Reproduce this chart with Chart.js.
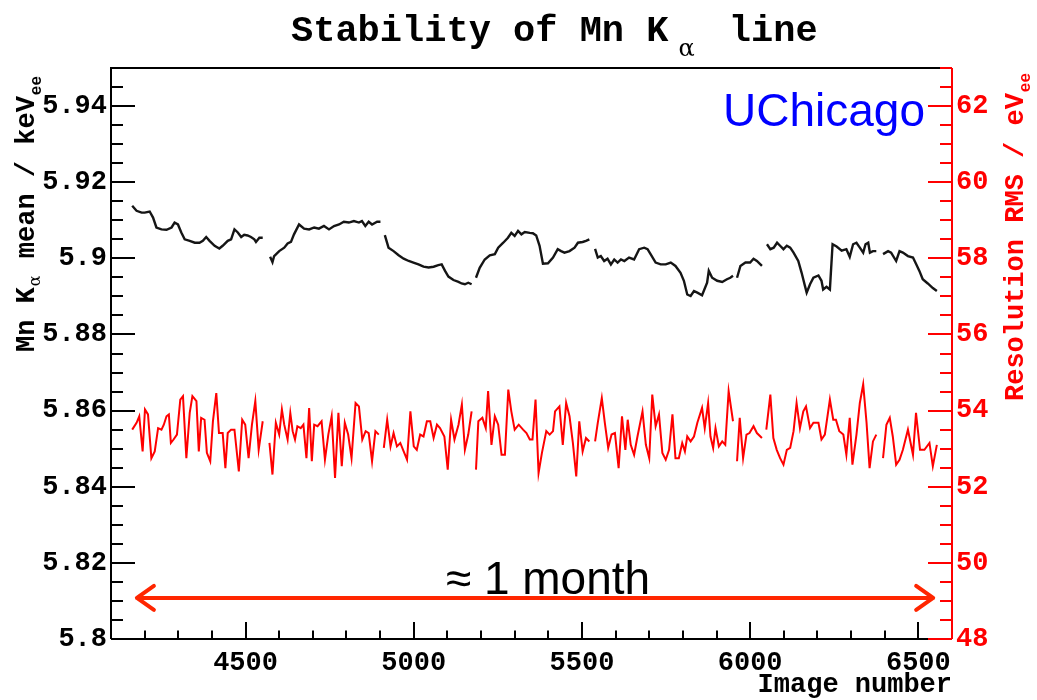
<!DOCTYPE html>
<html lang="en">
<head>
<meta charset="UTF-8">
<title>Stability of Mn Kα line</title>
<script src="https://cdn.jsdelivr.net/npm/chart.js"></script>
<style>
  body { margin: 0; background: #fff; }
  .wrap { width: 1037px; height: 700px; position: relative; }
</style>
</head>
<body>
<div class="wrap"><canvas id="chart"></canvas></div>
<script>
// Mn K-alpha mean (keV_ee) per image number, null = gap between runs
const meanImage = [
  4163, 4176, 4191, 4200, 4215, 4225, 4235, 4250, 4265, 4280, 4289, 4299, 4309, 4319, 4334, 4349, 4363, 4373,
  4383, 4393, 4408, 4422, 4432, 4447, 4457, 4467, 4477, 4487, 4496, 4506, 4516, 4526, 4531, 4541, 4551, 4562,
  4573, 4580, 4585, 4600, 4615, 4625, 4635, 4644, 4659, 4674, 4689, 4704, 4718, 4733, 4748, 4763, 4778, 4792,
  4807, 4822, 4837, 4846, 4856, 4866, 4876, 4891, 4901, 4907,
  4914, 4925, 4940, 4955, 4970, 4985, 4999, 5014, 5029, 5044, 5059, 5073, 5083, 5093, 5103, 5118, 5133, 5142,
  5152, 5162, 5172, 5178,
  5185, 5196, 5211, 5226, 5241, 5251, 5266, 5280, 5290, 5300, 5310, 5320, 5330, 5345, 5354, 5364, 5374, 5384,
  5399, 5414, 5428, 5438, 5448, 5463, 5478, 5488, 5502, 5512, 5522, 5530,
  5539, 5547, 5556, 5566, 5576, 5586, 5596, 5606, 5616, 5626, 5640, 5655, 5670, 5685, 5695, 5704, 5719, 5734,
  5749, 5764, 5778, 5793, 5803, 5813, 5823, 5833, 5843, 5857, 5872, 5877, 5887, 5902, 5917, 5931, 5941, 5949, 5955,
  5961, 5971, 5986, 6000, 6010, 6020, 6035, 6042,
  6050, 6060, 6070, 6080, 6089, 6099, 6109, 6119, 6129, 6143, 6153, 6163, 6168, 6178, 6188, 6203, 6212, 6217,
  6227, 6237, 6245, 6257, 6272, 6286, 6296, 6306, 6316, 6326, 6336, 6343, 6351, 6356, 6365, 6375, 6385,
  6395, 6410, 6419, 6434, 6444, 6454, 6469, 6484, 6494, 6503, 6513, 6528, 6543, 6555
];
const meanKeV = [
  5.9138, 5.9125, 5.9120, 5.9120, 5.9123, 5.9107, 5.9081, 5.9076, 5.9075, 5.9081, 5.9094, 5.9089, 5.9068, 5.9050, 5.9046, 5.9041, 5.9041, 5.9046,
  5.9056, 5.9046, 5.9033, 5.9026, 5.9033, 5.9046, 5.9050, 5.9076, 5.9068, 5.9056, 5.9062, 5.9060, 5.9056, 5.9050, 5.9043, 5.9054, 5.9054, null,
  5.9004, 5.8990, 5.9006, 5.9019, 5.9028, 5.9039, 5.9043, 5.9063, 5.9089, 5.9078, 5.9076, 5.9081, 5.9078, 5.9085, 5.9076, 5.9085, 5.9089, 5.9096,
  5.9094, 5.9098, 5.9094, 5.9098, 5.9085, 5.9096, 5.9089, 5.9096, 5.9096, null,
  5.9061, 5.9028, 5.9019, 5.9008, 5.8999, 5.8993, 5.8989, 5.8984, 5.8978, 5.8976, 5.8978, 5.8982, 5.8984, 5.8967, 5.8952, 5.8943, 5.8938, 5.8934,
  5.8932, 5.8936, 5.8932, null,
  5.8949, 5.8975, 5.8997, 5.9008, 5.9011, 5.9028, 5.9041, 5.9054, 5.9067, 5.9059, 5.9072, 5.9063, 5.9069, 5.9067, 5.9066, 5.9060, 5.9033, 5.8986,
  5.8987, 5.9002, 5.9024, 5.9019, 5.9015, 5.9019, 5.9028, 5.9041, 5.9043, 5.9046, 5.9050, null,
  5.9025, 5.9002, 5.9006, 5.8993, 5.8999, 5.8984, 5.8997, 5.8989, 5.8997, 5.8993, 5.9002, 5.8997, 5.9024, 5.9028, 5.9024, 5.9011, 5.8989, 5.8984,
  5.8984, 5.8989, 5.8980, 5.8962, 5.8941, 5.8905, 5.8901, 5.8914, 5.8910, 5.8903, 5.8936, 5.8967, 5.8949, 5.8941, 5.8938, 5.8945, 5.8949, 5.8954, null,
  5.8949, 5.8980, 5.8989, 5.8989, 5.8999, 5.8993, 5.8980, null,
  5.9037, 5.9024, 5.9028, 5.9041, 5.9033, 5.9024, 5.9033, 5.9028, 5.9015, 5.8993, 5.8962, 5.8927, 5.8910, 5.8932, 5.8949, 5.8955, 5.8941, 5.8918,
  5.8925, 5.8918, 5.9037, 5.9031, 5.9020, 5.9024, 5.9004, 5.9037, 5.9041, 5.9028, 5.9015, 5.9037, 5.9041, 5.9015, 5.9019, 5.9019, null,
  5.9011, 5.9019, 5.9015, 5.8993, 5.9019, 5.9015, 5.9006, 5.9002, 5.8984, 5.8967, 5.8945, 5.8934, 5.8922, 5.8914
];

// energy resolution RMS (eV_ee) per image number, null = gap between runs
const rmsImage = [
  4163, 4176, 4184, 4194, 4201, 4210, 4220, 4230, 4240, 4250, 4257, 4265, 4272, 4278, 4286, 4296, 4306, 4314,
  4324, 4334, 4342, 4354, 4361, 4368, 4378, 4385, 4395, 4403, 4413, 4421, 4432, 4440, 4447, 4457, 4467, 4480,
  4490, 4499, 4509, 4519, 4529, 4539, 4551, 4562,
  4571, 4580, 4590, 4600, 4608, 4615, 4625, 4633, 4640, 4647, 4654, 4664, 4672, 4681, 4689, 4697, 4704, 4714,
  4726, 4736, 4746, 4756, 4766, 4776, 4786, 4795, 4805, 4815, 4827, 4837, 4847, 4857, 4866, 4876, 4886, 4896, 4904,
  4911, 4921, 4931, 4940, 4950, 4960, 4970, 4980, 4990, 5000, 5009, 5019, 5029, 5039, 5049, 5059, 5069, 5078,
  5091, 5101, 5111, 5121, 5133, 5143, 5152, 5162, 5172, 5178,
  5185, 5192, 5204, 5214, 5221, 5231, 5241, 5251, 5261, 5271, 5281, 5290, 5300, 5312, 5325, 5335, 5345, 5353,
  5362, 5371, 5381, 5394, 5404, 5414, 5420, 5433, 5443, 5453, 5463, 5473, 5483, 5492, 5502, 5512, 5522, 5530,
  5539, 5547, 5559, 5568, 5578, 5588, 5598, 5609, 5619, 5629, 5636, 5645, 5655, 5665, 5680, 5690, 5700, 5709,
  5719, 5729, 5739, 5749, 5759, 5769, 5778, 5788, 5798, 5806, 5813, 5823, 5833, 5843, 5857, 5865, 5875, 5882,
  5890, 5897, 5907, 5917, 5926, 5936, 5949, 5955,
  5961, 5969, 5979, 5989, 5998, 6010, 6020, 6035, 6042,
  6048, 6060, 6069, 6079, 6089, 6099, 6109, 6119, 6129, 6138, 6148, 6158, 6166, 6178, 6188, 6203, 6212, 6222,
  6237, 6247, 6255, 6265, 6277, 6286, 6296, 6304, 6316, 6326, 6336, 6346, 6355, 6365, 6375, 6385,
  6395, 6405, 6415, 6424, 6434, 6444, 6454, 6469, 6484, 6493, 6505, 6518, 6533, 6543, 6555
];
const rmsEV = [
  53.50, 53.68, 53.85, 52.93, 54.03, 53.90, 52.75, 52.93, 53.54, 53.50, 53.63, 53.85, 53.90, 53.15, 53.24, 53.37, 54.29, 54.38,
  52.75, 53.94, 54.38, 54.25, 52.93, 53.81, 53.76, 52.89, 52.67, 53.72, 54.46, 53.41, 53.41, 52.49, 53.41, 53.50, 53.50, 52.40,
  53.76, 53.63, 52.75, 53.63, 54.25, 52.97, 53.72, null,
  53.15, 52.32, 53.68, 53.37, 54.03, 53.63, 53.24, 53.94, 53.46, 53.24, 53.59, 53.54, 53.63, 52.75, 54.07, 52.67, 53.63, 53.59,
  53.72, 52.71, 53.37, 53.85, 52.23, 53.94, 52.54, 53.68, 53.37, 52.75, 54.20, 54.11, 53.24, 53.46, 53.41, 52.67, 53.46, 53.37, null,
  53.02, 53.76, 53.06, 53.41, 53.06, 53.15, 52.93, 52.71, 53.98, 53.06, 52.97, 53.37, 53.32, 53.72, 53.72, 53.28, 53.63, 53.54,
  53.32, 52.45, 53.76, 53.24, 53.63, 54.16, 52.97, 53.37, 53.98, null,
  52.45, 53.72, 53.81, 53.54, 54.51, 53.10, 53.85, 53.63, 52.84, 52.84, 54.55, 53.98, 53.50, 53.63, 53.50, 53.41, 53.24, 53.24,
  54.29, 52.36, 52.89, 53.46, 53.37, 53.46, 53.98, 54.11, 53.10, 54.20, 53.85, 53.15, 52.27, 53.72, 52.93, 53.28, 53.19, null,
  53.19, 53.68, 54.33, 53.68, 53.02, 53.37, 53.41, 52.49, 53.85, 52.97, 53.76, 53.10, 52.84, 53.32, 53.98, 53.10, 52.75, 54.42,
  53.59, 53.90, 52.89, 52.71, 52.97, 53.90, 52.75, 52.75, 53.15, 52.93, 53.32, 53.19, 53.32, 53.68, 54.07, 53.54, 54.20, 53.32,
  53.02, 53.54, 53.06, 53.19, 53.10, 54.51, 53.72, null,
  52.67, 53.81, 52.75, 53.37, 53.41, 53.59, 53.41, 53.28, null,
  53.50, 54.42, 53.28, 52.97, 52.75, 52.58, 52.97, 53.02, 53.46, 54.20, 53.54, 53.98, 54.11, 53.54, 53.68, 53.68, 53.24, 53.37,
  54.29, 53.76, 53.76, 53.46, 53.37, 52.84, 53.81, 52.58, 53.37, 54.20, 54.69, 53.68, 52.49, 53.19, 53.37, null,
  52.75, 53.63, 53.81, 53.32, 52.58, 52.71, 52.97, 53.50, 52.84, 53.94, 52.97, 52.97, 53.15, 52.54, 53.10
];

const xTicks = [4500, 5000, 5500, 6000, 6500];
const leftTicks = [5.8, 5.82, 5.84, 5.86, 5.88, 5.9, 5.92, 5.94];
const rightTicks = [48, 50, 52, 54, 56, 58, 60, 62];

// "≈ 1 month" arrow: image-number span and height on the keV axis
const arrowSpan = [4177, 6544];
const arrowLevel = 5.8108;

const MONO = '"Liberation Mono", "DejaVu Sans Mono", monospace';
const tickFont = { family: MONO, size: 27, weight: 'bold' };

// draws text pieces one after another (used for sub-scripts)
function drawParts(ctx, parts, x, y) {
  let cx = x;
  for (const p of parts) {
    ctx.font = p.font;
    ctx.fillStyle = p.color || '#000';
    ctx.fillText(p.text, cx, y + (p.dy || 0));
    cx += ctx.measureText(p.text).width + (p.gap || 0);
  }
}

const rootStyle = {
  id: 'rootStyle',
  afterDraw(chart) {
    const { ctx, chartArea: a, scales } = chart;
    const x = scales.x, y = scales.y, y1 = scales.y1;
    ctx.save();
    ctx.lineWidth = 2;
    ctx.lineCap = 'butt';

    // frame
    ctx.strokeStyle = '#000';
    ctx.beginPath();
    ctx.moveTo(a.left, a.bottom); ctx.lineTo(a.left, a.top); ctx.lineTo(a.right, a.top);
    ctx.moveTo(a.left, a.bottom); ctx.lineTo(a.right, a.bottom);
    ctx.stroke();

    // inner ticks, ROOT style
    ctx.beginPath();
    for (let v = 4100; v <= 6600; v += 100) {
      const px = Math.round(x.getPixelForValue(v));
      const len = v % 500 === 0 ? 17 : 8.5;
      ctx.moveTo(px, a.bottom); ctx.lineTo(px, a.bottom - len);
    }
    for (let i = 0; i <= 30; i++) {
      const py = Math.round(y.getPixelForValue(5.8 + i * 0.005));
      const len = i % 4 === 0 ? 24 : 12;
      ctx.moveTo(a.left, py); ctx.lineTo(a.left + len, py);
    }
    ctx.stroke();

    ctx.strokeStyle = '#ff0000';
    ctx.beginPath();
    ctx.moveTo(a.right, a.top); ctx.lineTo(a.right, a.bottom);
    for (let i = 0; i <= 30; i++) {
      const py = Math.round(y1.getPixelForValue(48 + i * 0.5));
      const len = i % 4 === 0 ? 24 : 12;
      ctx.moveTo(a.right, py); ctx.lineTo(a.right - len, py);
    }
    ctx.stroke();

    // arrow
    const ax0 = x.getPixelForValue(arrowSpan[0]);
    const ax1 = x.getPixelForValue(arrowSpan[1]);
    const ay = y.getPixelForValue(arrowLevel);
    ctx.strokeStyle = '#ff2600';
    ctx.lineWidth = 4;
    ctx.lineCap = 'round';
    ctx.lineJoin = 'round';
    ctx.beginPath();
    ctx.moveTo(ax0, ay); ctx.lineTo(ax1, ay);
    ctx.moveTo(ax0 + 17, ay - 12); ctx.lineTo(ax0, ay); ctx.lineTo(ax0 + 17, ay + 12);
    ctx.moveTo(ax1 - 17, ay - 12); ctx.lineTo(ax1, ay); ctx.lineTo(ax1 - 17, ay + 12);
    ctx.stroke();

    // texts
    ctx.textBaseline = 'alphabetic';
    ctx.fillStyle = '#000';
    ctx.font = '46px "Liberation Sans", Arial, sans-serif';
    ctx.textAlign = 'center';
    ctx.fillText('≈ 1 month', 548, 594);
    ctx.fillStyle = '#0000ff';
    ctx.textAlign = 'left';
    ctx.fillText('UChicago', 723, 126);

    // title
    drawParts(ctx, [
      { text: 'Stability of Mn K', font: 'bold 37px ' + MONO, gap: 10 },
      { text: 'α', font: '24px "DejaVu Serif", serif', dy: 15, gap: 12 },
      { text: ' line', font: 'bold 37px ' + MONO }
    ], 291, 41);

    // x axis title
    ctx.font = 'bold 27px ' + MONO;
    ctx.fillStyle = '#000';
    ctx.textAlign = 'right';
    ctx.fillText('Image number', 952, 692);
    ctx.textAlign = 'left';

    // left axis title
    ctx.save();
    ctx.translate(34, 352);
    ctx.rotate(-Math.PI / 2);
    drawParts(ctx, [
      { text: 'Mn K', font: 'bold 27px ' + MONO, gap: 1 },
      { text: 'α', font: '16px "DejaVu Serif", serif', dy: 6, gap: 1 },
      { text: ' mean / keV', font: 'bold 27px ' + MONO, gap: 1 },
      { text: 'ee', font: 'bold 16px ' + MONO, dy: 7 }
    ], 0, 0);
    ctx.restore();

    // right axis title
    ctx.save();
    ctx.translate(1023, 401);
    ctx.rotate(-Math.PI / 2);
    drawParts(ctx, [
      { text: 'Resolution RMS / eV', font: 'bold 27px ' + MONO, color: '#ff0000', gap: 1 },
      { text: 'ee', font: 'bold 16px ' + MONO, color: '#ff0000', dy: 7 }
    ], 0, 0);
    ctx.restore();

    ctx.restore();
  }
};

const hideGrid = { display: false, drawTicks: false, drawOnChartArea: false };

new Chart(document.getElementById('chart'), {
  type: 'line',
  data: {
    datasets: [
      {
        label: 'Mn Kα mean',
        data: meanImage.map((v, i) => ({ x: v, y: meanKeV[i] })),
        yAxisID: 'y',
        borderColor: '#151515',
        borderWidth: 2.4,
        pointRadius: 0,
        tension: 0,
        spanGaps: false
      },
      {
        label: 'Resolution RMS',
        data: rmsImage.map((v, i) => ({ x: v, y: rmsEV[i] })),
        yAxisID: 'y1',
        borderColor: '#ff0000',
        borderWidth: 2,
        pointRadius: 0,
        tension: 0,
        spanGaps: false
      }
    ]
  },
  options: {
    responsive: true,
    maintainAspectRatio: false,
    animation: false,
    events: [],
    layout: { padding: { top: 68, left: 0, right: 0, bottom: 0 } },
    plugins: { legend: { display: false }, tooltip: { enabled: false } },
    scales: {
      x: {
        type: 'linear',
        min: 4100,
        max: 6600,
        grid: hideGrid,
        border: { display: false },
        ticks: { font: tickFont, color: '#000', padding: 8, autoSkip: false, maxRotation: 0, callback: v => String(v) },
        afterBuildTicks: s => { s.ticks = xTicks.map(v => ({ value: v })); },
        afterFit: s => { s.height = 61; }
      },
      y: {
        type: 'linear',
        position: 'left',
        min: 5.8,
        max: 5.95,
        grid: hideGrid,
        border: { display: false },
        ticks: { font: tickFont, color: '#000', padding: 4, autoSkip: false, callback: v => String(+v.toFixed(2)) },
        afterBuildTicks: s => { s.ticks = leftTicks.map(v => ({ value: v })); },
        afterFit: s => { s.width = 111; }
      },
      y1: {
        type: 'linear',
        position: 'right',
        min: 48,
        max: 63,
        grid: hideGrid,
        border: { display: false },
        ticks: { font: tickFont, color: '#ff0000', padding: 4, autoSkip: false },
        afterBuildTicks: s => { s.ticks = rightTicks.map(v => ({ value: v })); },
        afterFit: s => { s.width = 85; }
      }
    }
  },
  plugins: [rootStyle]
});
</script>
</body>
</html>
